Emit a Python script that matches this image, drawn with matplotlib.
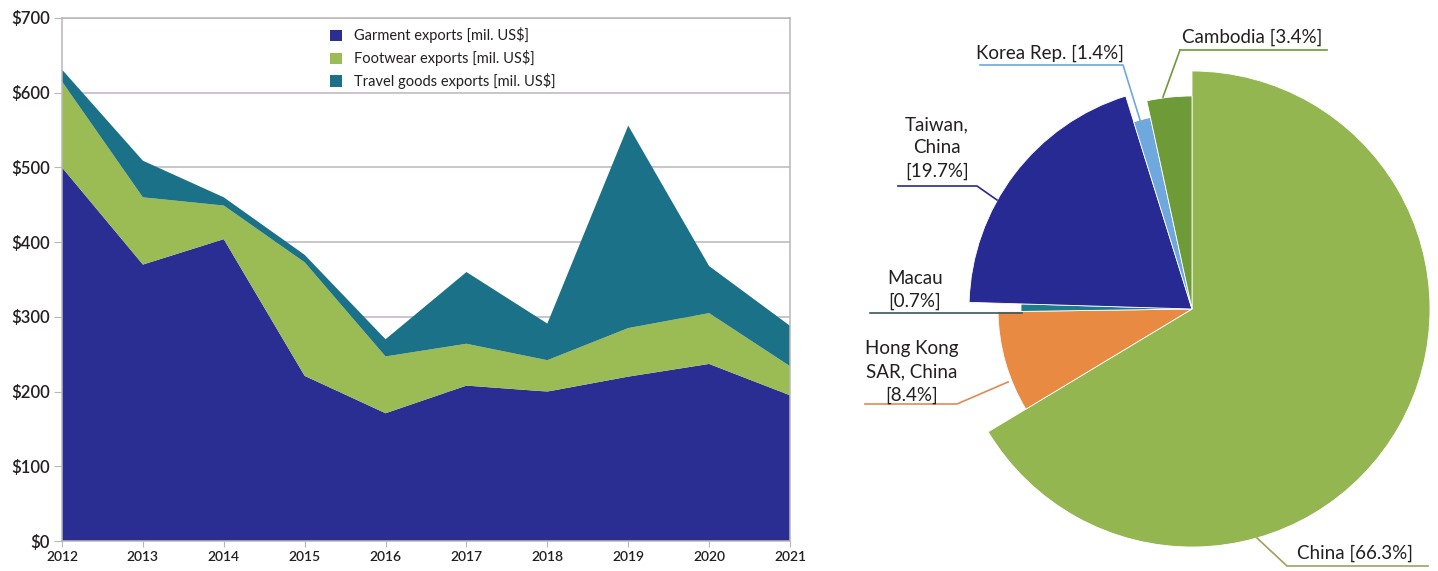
import matplotlib

matplotlib.use("Agg")
import matplotlib.pyplot as plt

plt.rcParams["font.family"] = ["Lato", "DejaVu Sans"]

# export values, million US$
years = [2012, 2013, 2014, 2015, 2016, 2017, 2018, 2019, 2020, 2021]
garment = [500, 370, 404, 221, 171, 208, 200, 220, 237, 195]
footwear = [115, 90, 45, 152, 76, 56, 42, 65, 68, 39]
travel = [16, 49, 11, 10, 23, 96, 49, 271, 63, 54]
series_names = [
    "Garment exports [mil. US$]",
    "Footwear exports [mil. US$]",
    "Travel goods exports [mil. US$]",
]
y_ticks = [0, 100, 200, 300, 400, 500, 600, 700]

# sourcing partners, share of inputs (%)
partners = ["China", "Hong Kong\nSAR, China", "Macau", "Taiwan,\nChina", "Korea Rep.", "Cambodia"]
shares = [66.3, 8.4, 0.7, 19.7, 1.4, 3.4]

W, H = 1438, 571
TEXT = "#231f20"
area_colors = ["#2a2e92", "#9bbb55", "#1b7187"]
pie_colors = ["#93b650", "#e98a43", "#1c7b8e", "#262a92", "#6fa8dc", "#6e9b37"]
leader_colors = ["#a39f5c", "#e08a55", "#3d5560", "#262a92", "#6fa8dc", "#6e9b37"]
wedge_radius = [238, 194, 171, 223, 196, 213]

fig = plt.figure(figsize=(W / 100, H / 100), dpi=100)

# ---- stacked area ----
ax = fig.add_axes([62 / W, 1 - 541 / H, (790 - 62) / W, (541 - 18) / H])
polys = ax.stackplot(years, garment, footwear, travel, colors=area_colors,
                     labels=series_names, lw=0, zorder=2)
ax.set_xlim(years[0], years[-1])
ax.set_ylim(0, 700)
ax.set_xticks(years, [str(y) for y in years])
ax.set_yticks(y_ticks, [f"${v}" for v in y_ticks])
ax.grid(axis="y", color="#bcb4bd", lw=1.1, zorder=1)
for s in ax.spines.values():
    s.set_color("#bdb6b6")
    s.set_linewidth(1.1)
ax.tick_params(axis="y", length=6, color="#bdb6b6", labelsize=12, labelcolor=TEXT, pad=3)
ax.tick_params(axis="x", length=4, color="#bdb6b6", labelsize=10, labelcolor=TEXT, pad=3)
for lbl in ax.get_xticklabels() + ax.get_yticklabels():
    lbl.set_fontweight("semibold")
ax.legend(loc="upper left", bbox_to_anchor=(323 / W, 1 - 20 / H),
          bbox_transform=fig.transFigure, frameon=False, fontsize=10.5,
          handlelength=0.8, handleheight=0.8, handletextpad=0.85,
          labelspacing=0.47, borderpad=0, labelcolor=TEXT)

# ---- pie with per-slice radius ----
ax2 = fig.add_axes([840 / W, 0, (W - 840) / W, 1])
cx, cy = 1192, H - 309
wedges, _ = ax2.pie(shares, colors=pie_colors, startangle=90, counterclock=False,
                    center=(cx, cy), radius=1,
                    wedgeprops=dict(edgecolor="white", linewidth=0.6))
for w, r in zip(wedges, wedge_radius):
    w.set_radius(r)
ax2.set_xlim(840, W)
ax2.set_ylim(0, H)
ax2.set_aspect("equal")
ax2.axis("off")


def up(y):
    return H - y


# label text position (image px), leader polyline (image px)
label_layout = [
    ((1355, 553), [(1428, 566), (1287, 566), (1257, 538)]),
    ((912, 372), [(865, 404), (957, 404), (1008, 382)]),
    ((915, 290), [(870, 313), (1022, 313)]),
    ((937, 148), [(898, 186), (977, 186), (997, 200)]),
    ((1050, 53), [(980, 65), (1123, 65), (1140, 120)]),
    ((1252, 37), [(1180, 50), (1327, 50)]),
]
cambodia_leader = [(1180, 50), (1163, 97)]

for name, share, (pos, line), lc in zip(partners, shares, label_layout, leader_colors):
    sep = "\n" if ("\n" in name or name == "Macau") else " "
    text = f"{name}{sep}[{share}%]"
    ax2.text(pos[0], up(pos[1]), text, ha="center", va="center", fontsize=13.5,
             color=TEXT, linespacing=1.45)
    ax2.plot([p[0] for p in line], [up(p[1]) for p in line], color=lc, lw=1.2)
ax2.plot([p[0] for p in cambodia_leader], [up(p[1]) for p in cambodia_leader],
         color=leader_colors[-1], lw=1.2)

fig.savefig("out.png", dpi=100)
